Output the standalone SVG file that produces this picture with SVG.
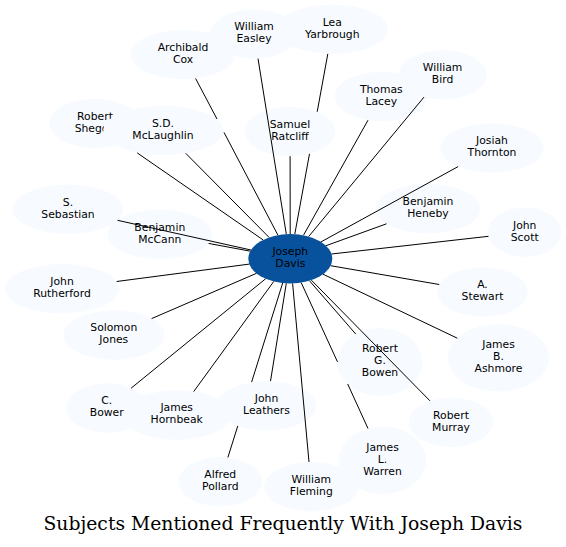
<svg xmlns="http://www.w3.org/2000/svg" width="566" height="547" viewBox="0 0 566 547">
<style>
.n ellipse{fill:#f7fbff}
#joseph_davis ellipse{fill:#08519c}
.n text{font-family:"DejaVu Sans","Liberation Sans",sans-serif;font-size:10.8px;text-anchor:middle;fill:#000}
#edges line{stroke:#000;stroke-width:1;fill:none}
.title{font-family:"DejaVu Serif","Liberation Serif",serif;font-size:18px;text-anchor:middle;fill:#000}
</style>
<rect width="566" height="547" fill="#fff"/>
<g id="nodes">
<g id="joseph_davis" class="n"><ellipse cx="290.3" cy="258.7" rx="42" ry="24.7"/><text x="290.3" y="255">Joseph</text><text x="290.3" y="267">Davis</text></g>
<g id="archibald_cox" class="n"><ellipse cx="183" cy="54.5" rx="52" ry="24.7"/><text x="183" y="50.8">Archibald</text><text x="183" y="62.8">Cox</text></g>
<g id="lea_yarbrough" class="n"><ellipse cx="332.3" cy="29.3" rx="55.5" ry="24.7"/><text x="332.3" y="25.6">Lea</text><text x="332.3" y="37.6">Yarbrough</text></g>
<g id="william_easley" class="n"><ellipse cx="254" cy="34" rx="44" ry="24.7"/><text x="254" y="30.3">William</text><text x="254" y="42.3">Easley</text></g>
<g id="samuel_ratcliff" class="n"><ellipse cx="290" cy="131.5" rx="45.3" ry="24.7"/><text x="290" y="127.8">Samuel</text><text x="290" y="139.8">Ratcliff</text></g>
<g id="thomas_lacey" class="n"><ellipse cx="381.3" cy="96.5" rx="46.6" ry="24.7"/><text x="381.3" y="92.8">Thomas</text><text x="381.3" y="104.8">Lacey</text></g>
<g id="william_bird" class="n"><ellipse cx="442.5" cy="74.7" rx="44" ry="24.7"/><text x="442.5" y="71">William</text><text x="442.5" y="83">Bird</text></g>
<g id="robert_shegog" class="n"><ellipse cx="95" cy="123.5" rx="45.5" ry="24.7"/><text x="95" y="119.8">Robert</text><text x="95" y="131.8">Shegog</text></g>
<g id="sd_mclaughlin" class="n"><ellipse cx="163.3" cy="130.5" rx="60" ry="24.7"/><text x="163" y="126.8">S.D.</text><text x="163" y="138.8">McLaughlin</text></g>
<g id="josiah_thornton" class="n"><ellipse cx="492" cy="148" rx="51.7" ry="24.7"/><text x="492" y="144.3">Josiah</text><text x="492" y="156.3">Thornton</text></g>
<g id="benjamin_mccann" class="n"><ellipse cx="159.8" cy="234.2" rx="52.5" ry="24.7"/><text x="159.8" y="230.5">Benjamin</text><text x="159.8" y="242.5">McCann</text></g>
<g id="s_sebastian" class="n"><ellipse cx="68" cy="209.3" rx="55.3" ry="24.7"/><text x="68" y="205.6">S.</text><text x="68" y="217.6">Sebastian</text></g>
<g id="benjamin_heneby" class="n"><ellipse cx="428" cy="208.7" rx="52.3" ry="24.7"/><text x="428" y="205">Benjamin</text><text x="428" y="217">Heneby</text></g>
<g id="john_scott" class="n"><ellipse cx="524.7" cy="232.2" rx="36.7" ry="24.7"/><text x="524.7" y="228.5">John</text><text x="524.7" y="240.5">Scott</text></g>
<g id="john_rutherford" class="n"><ellipse cx="62" cy="288.7" rx="57" ry="24.7"/><text x="62" y="285">John</text><text x="62" y="297">Rutherford</text></g>
<g id="a_stewart" class="n"><ellipse cx="482.5" cy="292" rx="45.5" ry="24.7"/><text x="482.5" y="288.3">A.</text><text x="482.5" y="300.3">Stewart</text></g>
<g id="solomon_jones" class="n"><ellipse cx="113.8" cy="335" rx="50.5" ry="24.7"/><text x="113.8" y="331.3">Solomon</text><text x="113.8" y="343.3">Jones</text></g>
<g id="james_b_ashmore" class="n"><ellipse cx="498.5" cy="357.8" rx="50.5" ry="33.8"/><text x="498.5" y="348.1">James</text><text x="498.5" y="360.1">B.</text><text x="498.5" y="372.1">Ashmore</text></g>
<g id="robert_g_bowen" class="n"><ellipse cx="380" cy="362" rx="42.5" ry="34"/><text x="380" y="352.3">Robert</text><text x="380" y="364.3">G.</text><text x="380" y="376.3">Bowen</text></g>
<g id="james_l_warren" class="n"><ellipse cx="382.5" cy="460.3" rx="43.8" ry="33.7"/><text x="382.5" y="450.6">James</text><text x="382.5" y="462.6">L.</text><text x="382.5" y="474.6">Warren</text></g>
<g id="robert_murray" class="n"><ellipse cx="451" cy="422.3" rx="42.2" ry="24.7"/><text x="451" y="418.6">Robert</text><text x="451" y="430.6">Murray</text></g>
<g id="james_hornbeak" class="n"><ellipse cx="176.7" cy="415" rx="53.7" ry="24.7"/><text x="176.7" y="411.3">James</text><text x="176.7" y="423.3">Hornbeak</text></g>
<g id="c_bower" class="n"><ellipse cx="106.7" cy="408" rx="40.8" ry="24.7"/><text x="106.7" y="404.3">C.</text><text x="106.7" y="416.3">Bower</text></g>
<g id="alfred_pollard" class="n"><ellipse cx="220.3" cy="481.7" rx="42" ry="24.7"/><text x="220.3" y="478">Alfred</text><text x="220.3" y="490">Pollard</text></g>
<g id="john_leathers" class="n"><ellipse cx="266.5" cy="405.7" rx="49.9" ry="24.7"/><text x="266.5" y="402">John</text><text x="266.5" y="414">Leathers</text></g>
<g id="william_fleming" class="n"><ellipse cx="311.3" cy="486.7" rx="47" ry="24.7"/><text x="311.3" y="483">William</text><text x="311.3" y="495">Fleming</text></g>
</g>
<g id="edges">
<line x1="277.9" y1="235.1" x2="224" y2="132.4"/>
<line x1="217" y1="119" x2="195.6" y2="78.5"/>
<line x1="286.3" y1="234.1" x2="258" y2="58.6"/>
<line x1="294.8" y1="234.1" x2="309.5" y2="153.8"/>
<line x1="317.2" y1="111.8" x2="327.8" y2="53.9"/>
<line x1="303.5" y1="235.2" x2="368" y2="120.2"/>
<line x1="308.7" y1="236.5" x2="424" y2="97.1"/>
<line x1="290.2" y1="234" x2="290.1" y2="156.2"/>
<line x1="263.1" y1="239.9" x2="137.2" y2="152.9"/>
<line x1="269.1" y1="237.4" x2="185.8" y2="153.4"/>
<line x1="321" y1="241.9" x2="458.1" y2="166.6"/>
<line x1="251" y1="250" x2="117.5" y2="220.3"/>
<line x1="250.3" y1="251.2" x2="208.6" y2="243.4"/>
<line x1="326" y1="245.7" x2="386.5" y2="223.8"/>
<line x1="331.5" y1="254" x2="488.5" y2="236.3"/>
<line x1="249.3" y1="264.1" x2="116.6" y2="281.5"/>
<line x1="330.6" y1="265.7" x2="439.2" y2="284.5"/>
<line x1="256.5" y1="273.3" x2="151.6" y2="318.6"/>
<line x1="309.4" y1="280.7" x2="355.8" y2="334.1"/>
<line x1="323" y1="274.2" x2="457.3" y2="338.2"/>
<line x1="265.7" y1="278.7" x2="131.1" y2="388.2"/>
<line x1="273.8" y1="281.4" x2="193.7" y2="391.6"/>
<line x1="286.3" y1="283.3" x2="270.5" y2="381.1"/>
<line x1="282.7" y1="283" x2="251.6" y2="382.1"/>
<line x1="237.8" y1="425.9" x2="227.9" y2="457.4"/>
<line x1="292.6" y1="283.4" x2="309" y2="462"/>
<line x1="301.2" y1="282.6" x2="337.5" y2="361.9"/>
<line x1="347.7" y1="384" x2="368" y2="428.5"/>
<line x1="311.3" y1="280.1" x2="430" y2="400.9"/>
</g>
<text class="title" x="283" y="530" textLength="479" lengthAdjust="spacingAndGlyphs">Subjects Mentioned Frequently With Joseph Davis</text>
</svg>
